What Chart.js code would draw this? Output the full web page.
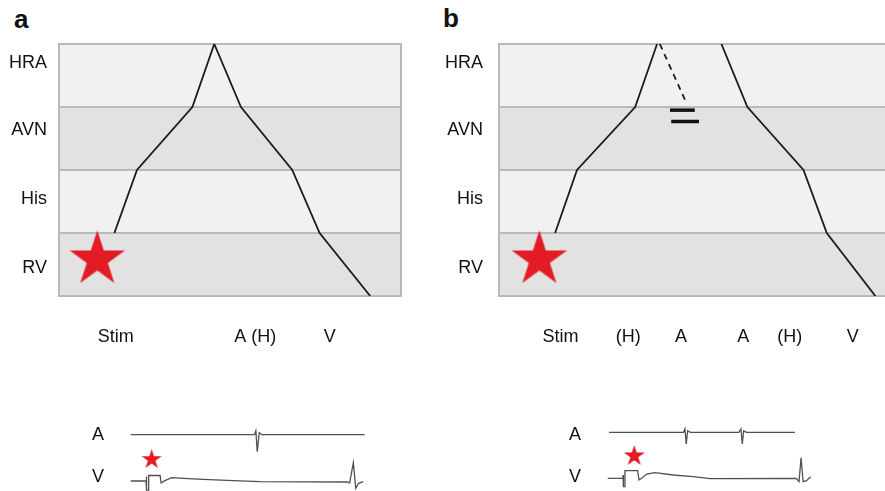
<!DOCTYPE html>
<html>
<head>
<meta charset="utf-8">
<script src="https://cdn.jsdelivr.net/npm/chart.js@4/dist/chart.umd.min.js"></script>
<style>
    html, body { margin: 0; padding: 0; background: #fff; width: 885px; height: 491px; overflow: hidden; position: relative; }
    canvas { position: absolute; }
    .panel_letter { position: absolute; font: bold 26px "Liberation Sans", Arial, sans-serif; line-height: 26px; color: #111; }
</style>
</head>
<body>
<div class="panel_letter" style="left:14px; top:6px;">a</div>
<div class="panel_letter" style="left:443px; top:5px;">b</div>
<canvas id="ladder_a" width="425" height="360" style="left:0px; top:0px; width:425px; height:360px;"></canvas>
<canvas id="ladder_b" width="457" height="360" style="left:430px; top:0px; width:457px; height:360px;"></canvas>
<canvas id="egm_a" width="310" height="86" style="left:60px; top:405px; width:310px; height:86px;"></canvas>
<canvas id="egm_b" width="280" height="86" style="left:540px; top:405px; width:280px; height:86px;"></canvas>
<script>
// lanes of the ladder, bottom to top (level 0 = bottom of RV, 4 = top of HRA)
var lane_names = ['RV', 'His', 'AVN', 'HRA'];
var lane_label_levels = [0.45, 1.54, 2.64, 3.69];
var lane_edges = [0, 1, 2, 3, 4];

// panel a : time (ms) / level of the retrograde wave and its return
var wave_a_times = [81, 114, 195, 227, 266, 341, 381, 455];
var wave_a_levels = [1, 2, 3, 4, 3, 2, 1, 0];
var stim_a_time = 56;
var stim_a_level = 0.58;
var marks_a_times = [83, 287, 396];
var marks_a_labels = ['Stim', 'A (H)', 'V'];

// panel b : retrograde wave, blocked echo, anterograde return
var retro_b_times = [82, 114, 199, 231];
var retro_b_levels = [1, 2, 3, 4];
var echo_b_times = [235, 272];
var echo_b_levels = [4, 3.11];
var block_b_times = [268, 272];
var block_b_levels = [2.95, 2.77];
var ante_b_times = [325, 363, 445, 479, 550];
var ante_b_levels = [4, 3, 2, 1, 0];
var stim_b_time = 59;
var stim_b_level = 0.58;
var marks_b_times = [90, 189, 266, 357, 425, 517];
var marks_b_labels = ['Stim', '(H)', 'A', 'A', '(H)', 'V'];

// electrograms (ms / mV, atrial channel offset above ventricular)
var egm_a_atrial_times = [1, 182, 184, 186, 189, 193, 343];
var egm_a_atrial_values = [4.63, 4.63, 5.03, 2.93, 4.83, 4.63, 4.63];
var egm_a_vent_times = [1, 23.4, 23.9, 24.4, 26.8, 27.3, 44, 45.5, 51, 61, 78, 107, 151, 190, 318, 321, 326.5, 330, 334, 341];
var egm_a_vent_values = [0, 0, 0.45, -0.9, -0.9, 0.55, 0.55, -0.2, 0.03, 0.33, 0.27, 0.17, 0.03, -0.07, -0.1, -0.2, 1.83, -0.73, -0.23, -0.07];
var egm_a_stim_time = 31.7;
var egm_a_stim_value = 2.15;
var egm_a_label_values = [0.43, 4.6];

var egm_b_atrial_times = [3, 112, 114, 116, 118, 122, 193, 196, 198, 200, 204, 275];
var egm_b_atrial_values = [4.87, 4.87, 5.2, 3.7, 5.03, 4.87, 4.87, 5.2, 3.7, 5.03, 4.87, 4.87];
var egm_b_vent_times = [1, 23, 23.5, 24, 25.8, 26.3, 44.9, 46.8, 50.7, 58, 70, 97, 126, 151, 277, 281, 284, 287, 292, 298];
var egm_b_vent_values = [0.27, 0.27, 0.6, -0.57, -0.57, 1.03, 1.03, 0.1, 0.27, 0.7, 0.83, 0.6, 0.43, 0.23, 0.27, -0.07, 2.33, -0.07, 0.03, 0.43];
var egm_b_stim_time = 39.9;
var egm_b_stim_value = 2.5;
var egm_b_label_values = [0.43, 4.6];
var egm_label_names = ['V', 'A'];

Chart.defaults.font.family = '"Liberation Sans", Arial, sans-serif';
Chart.defaults.color = '#111';

var ladder_drawing = {

    star_red : '#e31b24',
    line_black : '#1c1c1c',

    to_points : function(times, values){
        return times.map(function(t, i){ return {x: t, y: values[i]}; });
    },

    // filled five point star, used as a point style image
    make_star : function(radius){
        var c = document.createElement('canvas');
        var size = Math.ceil(radius * 2) + 2;
        c.width = size; c.height = size;
        var g = c.getContext('2d');
        g.fillStyle = this.star_red;
        g.beginPath();
        for(var i = 0; i < 10; i++){
            var r = (i % 2 === 0) ? radius : radius * 0.382;
            var a = -Math.PI / 2 + i * Math.PI / 5;
            g.lineTo(size / 2 + r * Math.cos(a), size / 2 + r * Math.sin(a));
        }
        g.closePath();
        g.fill();
        return c;
    },

    // fixed axis size, and no extra room reserved for the edge labels
    pin_axis : function(s, size){
        if(s.isHorizontal()) s.height = size; else s.width = size;
        s.paddingTop = 0; s.paddingBottom = 0; s.paddingLeft = 0; s.paddingRight = 0;
    },

    // shaded lanes with grey separators, drawn under the datasets
    lane_plugin : {
        id : 'lane_bands',
        beforeDatasetsDraw : function(chart){
            var ctx = chart.ctx, area = chart.chartArea, y = chart.scales.y;
            ctx.save();
            for(var i = 0; i < lane_edges.length - 1; i++){
                var top = y.getPixelForValue(lane_edges[i + 1]);
                var bottom = y.getPixelForValue(lane_edges[i]);
                ctx.fillStyle = (i % 2 === 0) ? '#e2e2e2' : '#f1f1f1';
                ctx.fillRect(area.left, top, area.right - area.left, bottom - top);
            }
            ctx.strokeStyle = '#b9b9b9';
            ctx.lineWidth = 2;
            for(var j = 1; j < lane_edges.length - 1; j++){
                var py = y.getPixelForValue(lane_edges[j]);
                ctx.beginPath();
                ctx.moveTo(area.left, py);
                ctx.lineTo(area.right, py);
                ctx.stroke();
            }
            ctx.strokeRect(area.left, area.top, area.right - area.left, area.bottom - area.top);
            ctx.restore();
        }
    },

    trace : function(points, dash){
        return {
            type : 'line', data : points,
            borderColor : this.line_black, borderWidth : 1.8, borderDash : dash || [],
            pointRadius : 0, tension : 0, fill : false
        };
    },

    star : function(t, v, radius){
        return {
            type : 'line', data : [{x: t, y: v}], showLine : false,
            pointStyle : this.make_star(radius), pointRadius : 5
        };
    },

    build_ladder : function(canvas_id, datasets, mark_times, mark_labels, x_max, axis_width, label_pad, right_pad){
        var self = this;
        return new Chart(document.getElementById(canvas_id), {
            type : 'line',
            data : { datasets : datasets },
            plugins : [this.lane_plugin],
            options : {
                responsive : false, maintainAspectRatio : false, animation : false, events : [],
                layout : { autoPadding : false, padding : { top : 44, right : right_pad, bottom : 0, left : 0 } },
                plugins : { legend : { display : false }, tooltip : { enabled : false } },
                scales : {
                    x : {
                        type : 'linear', min : 0, max : x_max,
                        grid : { display : false, drawTicks : false }, border : { display : false },
                        ticks : {
                            autoSkip : false, maxRotation : 0, padding : 30, font : { size : 18 }, color : '#111',
                            callback : function(v, i){ return mark_labels[i]; }
                        },
                        afterBuildTicks : function(s){ s.ticks = mark_times.map(function(t){ return {value: t}; }); },
                        afterFit : function(s){ self.pin_axis(s, 64); }
                    },
                    y : {
                        type : 'linear', min : 0, max : 4,
                        grid : { display : false, drawTicks : false }, border : { display : false },
                        ticks : {
                            padding : label_pad, font : { size : 18 }, color : '#111',
                            callback : function(v, i){ return lane_names[i]; }
                        },
                        afterBuildTicks : function(s){ s.ticks = lane_label_levels.map(function(l){ return {value: l}; }); },
                        afterFit : function(s){ self.pin_axis(s, axis_width); }
                    }
                }
            }
        });
    },

    build_egm : function(canvas_id, datasets, label_values, x_max, axis_width, right_pad){
        var self = this;
        return new Chart(document.getElementById(canvas_id), {
            type : 'line',
            data : { datasets : datasets },
            options : {
                responsive : false, maintainAspectRatio : false, animation : false, events : [],
                layout : { autoPadding : false, padding : { top : 5, right : right_pad, bottom : 0, left : 0 } },
                plugins : { legend : { display : false }, tooltip : { enabled : false } },
                scales : {
                    x : { type : 'linear', min : 0, max : x_max, display : false },
                    y : {
                        type : 'linear', min : -1, max : 7.1,
                        grid : { display : false, drawTicks : false }, border : { display : false },
                        ticks : {
                            padding : 26, font : { size : 18 }, color : '#111',
                            callback : function(v, i){ return egm_label_names[i]; }
                        },
                        afterBuildTicks : function(s){ s.ticks = label_values.map(function(v){ return {value: v}; }); },
                        afterFit : function(s){ self.pin_axis(s, axis_width); }
                    }
                }
            }
        });
    },

    egm_line : function(points){
        return {
            type : 'line', data : points,
            borderColor : '#505050', borderWidth : 1.3,
            pointRadius : 0, tension : 0, fill : false, clip : 4
        };
    }
};

var ld = ladder_drawing;

ld.build_ladder('ladder_a', [
    ld.trace(ld.to_points(wave_a_times, wave_a_levels)),
    ld.star(stim_a_time, stim_a_level, 29)
], marks_a_times, marks_a_labels, 500, 59, 12, 24);

ld.build_ladder('ladder_b', [
    ld.trace(ld.to_points(retro_b_times, retro_b_levels)),
    ld.trace(ld.to_points(echo_b_times, echo_b_levels), [6, 5]),
    {
        type : 'line', data : ld.to_points(block_b_times, block_b_levels), showLine : false,
        pointStyle : 'line', pointRadius : [12.4, 13.9], pointBorderWidth : 3.5,
        pointBorderColor : '#111', pointBackgroundColor : '#111'
    },
    ld.trace(ld.to_points(ante_b_times, ante_b_levels)),
    ld.star(stim_b_time, stim_b_level, 29)
], marks_b_times, marks_b_labels, 567, 69, 16, 0);

ld.build_egm('egm_a', [
    ld.egm_line(ld.to_points(egm_a_atrial_times, egm_a_atrial_values)),
    ld.egm_line(ld.to_points(egm_a_vent_times, egm_a_vent_values)),
    ld.star(egm_a_stim_time, egm_a_stim_value, 10.5)
], egm_a_label_values, 345, 70, 4);

ld.build_egm('egm_b', [
    ld.egm_line(ld.to_points(egm_b_atrial_times, egm_b_atrial_values)),
    ld.egm_line(ld.to_points(egm_b_vent_times, egm_b_vent_values)),
    ld.star(egm_b_stim_time, egm_b_stim_value, 11)
], egm_b_label_values, 300, 67, 8);
</script>
</body>
</html>
